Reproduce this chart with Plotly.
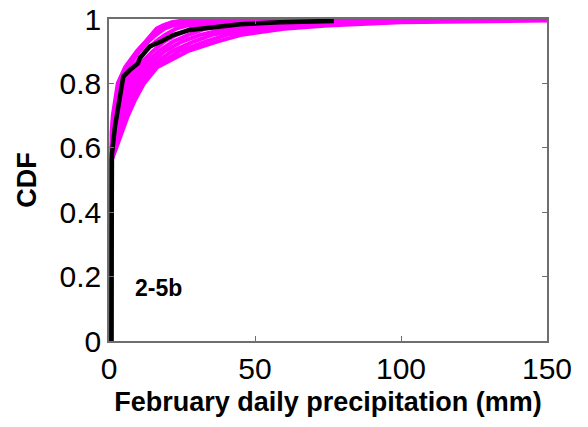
import plotly.graph_objects as go

# Observed empirical CDF (black)
obs_x = [0.8, 0.8, 1.0, 2.05, 3.0, 3.8, 4.9, 7.2, 9.9, 10.6, 14, 17.8, 22, 27.7, 33.4, 44.9, 58.6, 77]
obs_y = [0.0, 0.56, 0.58, 0.666, 0.717, 0.769, 0.821, 0.842, 0.862, 0.879, 0.915, 0.93, 0.95, 0.966, 0.973, 0.984, 0.99, 0.994]

# Simulated ensemble members (magenta): CDF levels and the precipitation read for each member
cdf_levels = [0.0, 0.56, 0.6, 0.65, 0.7, 0.75, 0.8, 0.85, 0.9, 0.93, 0.95, 0.97, 0.98, 0.99, 0.995, 1.0]
m1_x = [0.8, 0.8, 0.8, 0.9, 1.3, 2.0, 3.0, 5.5, 9.5, 12.5, 14.5, 16.3, 18.5, 21.5, 25, 30]
m2_x = [0.8, 0.8, 0.8, 1.0, 1.5, 2.3, 3.4, 6.0, 10, 13, 15, 17.5, 20, 24, 30, 38]
m3_x = [0.8, 0.8, 0.9, 1.2, 1.8, 2.6, 3.8, 6.5, 10.5, 13.5, 16, 19, 22, 27, 35, 45]
m4_x = [0.8, 0.8, 1.0, 1.6, 2.4, 3.4, 5.0, 8.0, 12.5, 16, 19, 23, 27, 33, 45, 60]
m5_x = [0.8, 0.8, 1.3, 2.0, 3.0, 4.2, 6.0, 9.5, 15, 19, 23, 28, 33, 42, 55, 80]
m6_x = [0.8, 0.8, 1.5, 2.5, 3.6, 5.2, 7.3, 11, 17, 22, 27, 33, 41, 55, 70, 100]
m7_x = [0.8, 0.8, 1.8, 3.0, 4.3, 6.2, 8.6, 12.5, 19, 25, 31, 40, 50, 66, 90, 130]
m8_x = [0.8, 0.8, 2.1, 3.5, 5.0, 7.2, 10, 14, 21.5, 29, 35, 46, 58, 78, 110, 150]
m9_x = [0.8, 0.8, 2.3, 4.0, 5.8, 8.0, 11, 15.5, 24, 33, 40, 52, 66, 88, 130, 150]
m10_x = [0.8, 0.8, 2.5, 4.5, 6.5, 9.0, 12, 16.5, 27, 37, 45, 60, 75, 100, 150, 150]
m10_y = [0.0, 0.56, 0.6, 0.65, 0.7, 0.75, 0.8, 0.85, 0.9, 0.93, 0.95, 0.97, 0.98, 0.99, 0.995, 0.995]

members = [(m1_x, cdf_levels), (m2_x, cdf_levels), (m3_x, cdf_levels), (m4_x, cdf_levels),
           (m5_x, cdf_levels), (m6_x, cdf_levels), (m7_x, cdf_levels), (m8_x, cdf_levels),
           (m9_x, cdf_levels), (m10_x, m10_y)]

x_ticks = [0, 50, 100, 150]
y_ticks = [0, 0.2, 0.4, 0.6, 0.8, 1]
y_tick_text = ["0", "0.2", "0.4", "0.6", "0.8", "1"]

fig = go.Figure()
for mx, my in members:
    fig.add_trace(go.Scatter(x=mx, y=my, mode="lines",
                             line=dict(color="#FF00FF", width=4),
                             showlegend=False, hoverinfo="skip"))
fig.add_trace(go.Scatter(x=obs_x, y=obs_y, mode="lines",
                         line=dict(color="black", width=4.5),
                         showlegend=False, hoverinfo="skip"))

fig.add_annotation(x=8.2, y=0.165, xref="x", yref="y", text="<b>2-5b</b>",
                   showarrow=False, xanchor="left", yanchor="middle",
                   font=dict(family="Liberation Sans, Arial", size=23, color="black"))

axis_common = dict(showgrid=False, zeroline=False, showline=True, linecolor="#6e6e6e",
                   linewidth=1.5, mirror="allticks", ticks="inside", ticklen=5,
                   tickcolor="#6e6e6e", tickwidth=1, automargin=False,
                   tickfont=dict(family="Liberation Sans, Arial", size=30, color="black"))

fig.update_xaxes(range=[0, 150], tickvals=x_ticks, ticktext=[str(v) for v in x_ticks],
                 title=dict(text="<b>February daily precipitation (mm)</b>",
                            font=dict(family="Liberation Sans, Arial", size=27, color="black"),
                            standoff=8),
                 **axis_common)
fig.update_yaxes(range=[0, 1], tickvals=y_ticks, ticktext=y_tick_text,
                 title=dict(text="<b>CDF</b>",
                            font=dict(family="Liberation Sans, Arial", size=27, color="black"),
                            standoff=15),
                 **axis_common)

fig.update_layout(width=588, height=427, margin=dict(l=109, r=41, t=19, b=86),
                  paper_bgcolor="white", plot_bgcolor="white")

fig.write_html("out.html")
